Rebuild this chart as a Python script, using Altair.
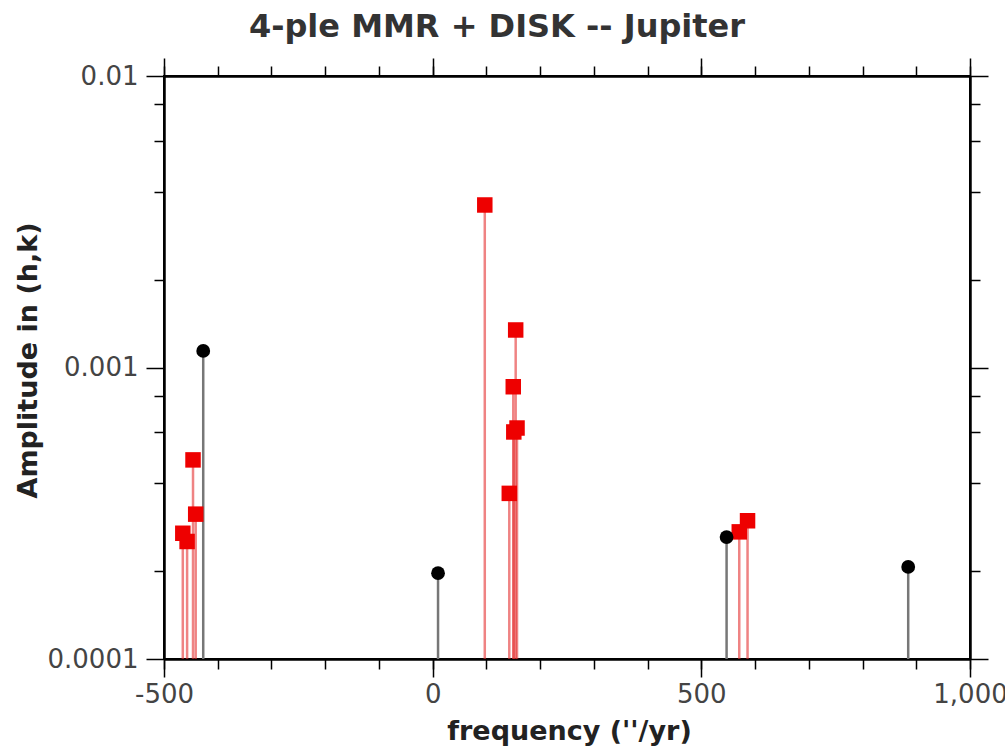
import altair as alt
import pandas as pd

# ---- data ----
black_freq = [-427, 10, 547, 885]
black_amp = [0.00114, 0.000197, 0.000262, 0.000207]

red_freq = [-465, -457, -446, -441, 97, 142.6, 150, 151, 154.5, 157, 570.6, 586]
red_amp = [0.00027, 0.000253, 0.000482, 0.000314, 0.00361, 0.00037, 0.000859,
           0.000601, 0.001345, 0.00062, 0.000273, 0.000298]

x_major = [-500, 0, 500, 1000]
x_minor = list(range(-500, 1001, 100))
y_major = [0.01, 0.001, 0.0001]
y_minor = [0.0002, 0.0004, 0.0006, 0.0008, 0.002, 0.004, 0.006, 0.008]

black = pd.DataFrame({"freq": black_freq, "amp": black_amp})
red = pd.DataFrame({"freq": red_freq, "amp": red_amp})

FONT = "DejaVu Sans"
W, H = 806, 583

xscale = alt.Scale(domain=[-500, 1000], nice=False, zero=False)
yscale = alt.Scale(type="log", domain=[0.0001, 0.01], nice=False)


def xaxis(orient, values, tick, labels=False, title=None):
    kw = dict(orient=orient, values=values, tickSize=tick, tickColor="black",
              tickWidth=1.5, domain=True, domainColor="black", domainWidth=2,
              grid=False, labels=labels)
    if labels:
        kw.update(labelExpr="datum.value >= 1000 ? format(datum.value, ',') : '' + datum.value",
                  labelFont=FONT, labelFontSize=26, labelColor="#444",
                  labelPadding=4, labelFlush=False)
    if title:
        kw.update(title=title, titleFont=FONT, titleFontSize=27, titleFontWeight="bold",
                  titleColor="#222", titleX=405, titleY=80, titleBaseline="alphabetic",
                  titleAlign="center")
    else:
        kw.update(title=None)
    return alt.Axis(**kw)


def yaxis(orient, values, tick, labels=False, title=None):
    kw = dict(orient=orient, values=values, tickSize=tick, tickColor="black",
              tickWidth=1.5, domain=True, domainColor="black", domainWidth=2,
              grid=False, labels=labels)
    if labels:
        kw.update(labelExpr="'' + datum.value", labelFont=FONT, labelFontSize=26,
                  labelColor="#444", labelPadding=8, labelFlush=False)
    if title:
        kw.update(title=title, titleFont=FONT, titleFontSize=27, titleFontWeight="bold",
                  titleColor="#222", titleX=-136, titleY=284, titleAngle=-90,
                  titleBaseline="middle", titleAlign="center")
    else:
        kw.update(title=None)
    return alt.Axis(**kw)


red_stems = alt.Chart(red).mark_rule(color="#e53030", opacity=0.6, strokeWidth=2.5).encode(
    x=alt.X("freq:Q", scale=xscale,
            axis=xaxis("bottom", x_major, 18, labels=True, title="frequency (''/yr)")),
    y=alt.Y("amp:Q", scale=yscale,
            axis=yaxis("left", y_major, 18, labels=True, title="Amplitude in (h,k)")),
    y2=alt.datum(0.0001),
)

black_stems = alt.Chart(black).mark_rule(color="#777777", strokeWidth=2.5).encode(
    x=alt.X("freq:Q", scale=xscale, axis=xaxis("bottom", x_minor, 10)),
    y=alt.Y("amp:Q", scale=yscale, axis=yaxis("left", y_minor, 10)),
    y2=alt.datum(0.0001),
)

red_pts = alt.Chart(red).mark_point(shape="square", filled=True, color="#ee0000",
                                    size=240, opacity=1).encode(
    x=alt.X("freq:Q", scale=xscale, axis=xaxis("top", x_major, 18)),
    y=alt.Y("amp:Q", scale=yscale, axis=yaxis("right", y_major, 18)),
)

black_pts = alt.Chart(black).mark_point(shape="circle", filled=True, color="black",
                                        size=190, opacity=1).encode(
    x=alt.X("freq:Q", scale=xscale, axis=xaxis("top", x_minor, 10)),
    y=alt.Y("amp:Q", scale=yscale, axis=yaxis("right", y_minor, 10)),
)

chart = alt.layer(red_stems, black_stems, red_pts, black_pts).resolve_axis(
    x="independent", y="independent"
).properties(
    width=W, height=H,
    background="white",
    title=alt.TitleParams("4-ple MMR + DISK -- Jupiter", font=FONT, fontSize=32,
                          fontWeight="bold", color="#333", anchor="middle",
                          baseline="alphabetic", offset=20, dx=-70, dy=32),
    autosize=alt.AutoSizeParams(type="none"),
    padding={"left": 164, "top": 76, "right": 35, "bottom": 89},
).configure_view(stroke="black", strokeWidth=2)

chart.save("out.html", embed_options={"renderer": "svg", "actions": False})
